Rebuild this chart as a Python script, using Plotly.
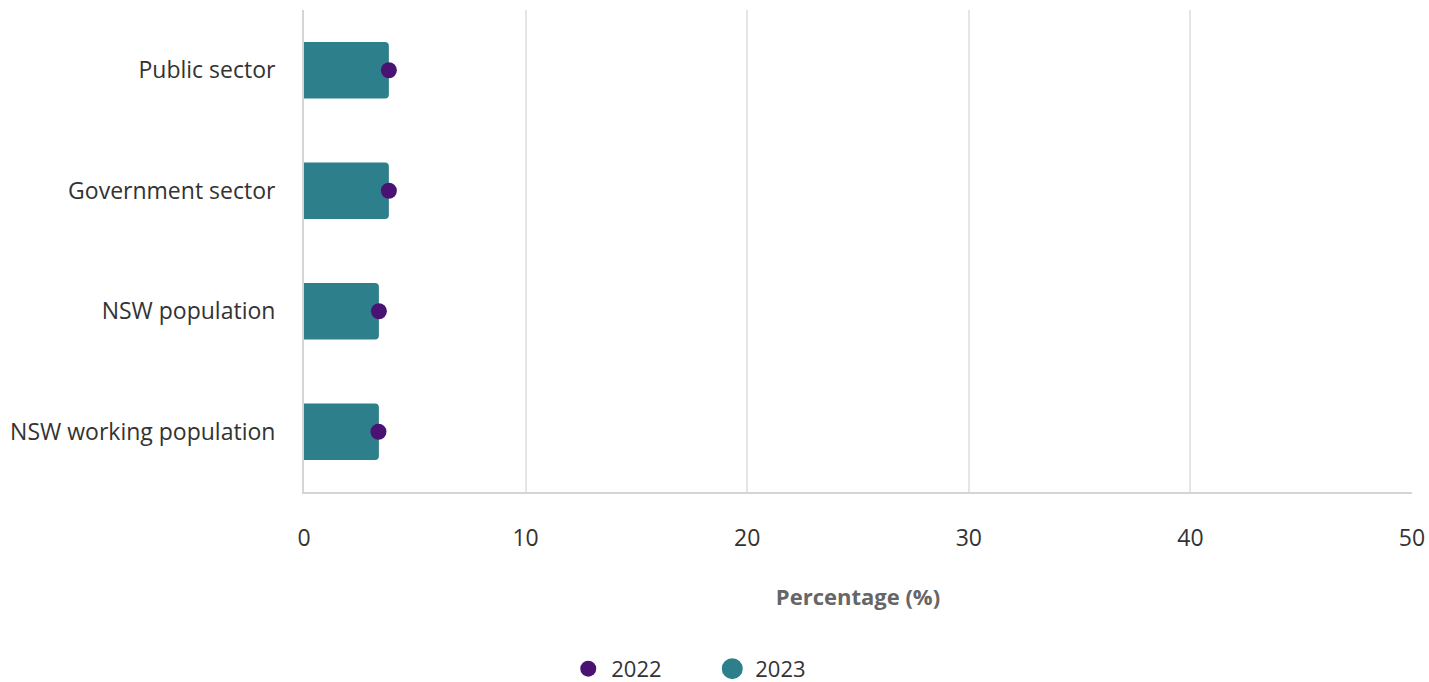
import plotly.graph_objects as go

categories = ["Public sector", "Government sector", "NSW population", "NSW working population"]
values_2023 = [3.83, 3.83, 3.38, 3.38]
values_2022 = [3.83, 3.83, 3.38, 3.36]
x_ticks = [0, 10, 20, 30, 40, 50]

BAR_COLOR = "#2e7f8c"
DOT_COLOR = "#4a1373"
FONT = "Open Sans"

fig = go.Figure()
fig.add_trace(go.Bar(
    x=values_2023, y=categories, orientation="h",
    marker=dict(color=BAR_COLOR, line=dict(width=0)),
    width=0.47, showlegend=False, name="2023",
))
fig.add_trace(go.Scatter(
    x=values_2022, y=categories, mode="markers", name="2022",
    marker=dict(color=DOT_COLOR, size=16),
))
fig.add_trace(go.Scatter(
    x=[None], y=[None], mode="markers", name="2023",
    marker=dict(color=BAR_COLOR, size=18, line=dict(color=BAR_COLOR, width=5)),
))

fig.update_layout(
    width=1429, height=682,
    margin=dict(l=304, r=17, t=10, b=190, autoexpand=False),
    plot_bgcolor="white", paper_bgcolor="white",
    font=dict(family=FONT, size=22, color="#333333"),
    barcornerradius=4,
    legend=dict(orientation="h", x=0.2358, xanchor="left", y=-0.367, yanchor="middle",
                font=dict(size=22, color="#333333"), entrywidth=93, entrywidthmode="pixels",
                itemwidth=36),
    xaxis=dict(
        range=[0, 50], tickvals=x_ticks, showgrid=True, gridcolor="#e5e5e5", gridwidth=1.5,
        showline=True, linecolor="#d3d6d9", linewidth=2, zeroline=False, automargin=False,
        ticklabelstandoff=24, tickfont=dict(size=23, color="#333333"),
        title=dict(text="<b>Percentage (%)</b>", font=dict(size=22, color="#666666"), standoff=38),
        fixedrange=True,
    ),
    yaxis=dict(
        categoryorder="array", categoryarray=categories[::-1], automargin=False,
        showline=True, linecolor="#d3d6d9", linewidth=2, showgrid=False,
        ticklabelstandoff=22, tickfont=dict(size=23, color="#333333"),
    ),
)

fig.write_html("out.html")
